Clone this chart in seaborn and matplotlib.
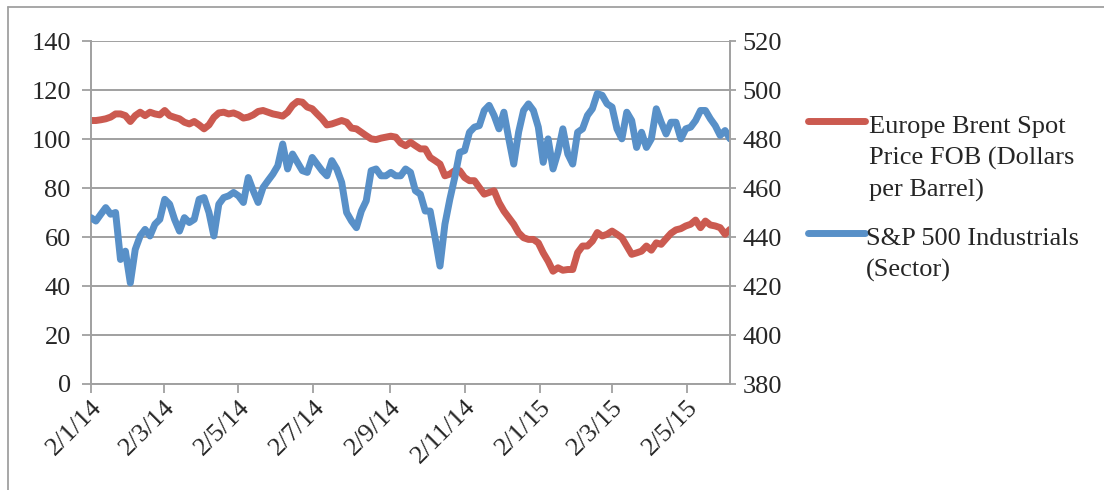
import pandas as pd
import matplotlib.pyplot as plt
import matplotlib.dates as mdates
from matplotlib.lines import Line2D
from matplotlib.ticker import FuncFormatter
import seaborn as sns

# values, one point every 4 days
dates = pd.date_range("2014-01-02", "2015-06-06", freq="4D")

brent = [
    107.7, 107.7, 108.0, 108.4, 109.1, 110.4, 110.4, 109.7, 107.3, 109.7,
    111.1, 109.7, 111.1, 110.4, 110.0, 111.8, 109.7, 109.0, 108.4, 107.0,
    106.3, 107.3, 105.9, 104.3, 105.9, 109.0, 110.8, 111.1, 110.4, 110.8,
    110.0, 108.7, 109.1, 110.0, 111.4, 111.8, 111.1, 110.4, 110.0, 109.5,
    111.1, 113.9, 115.5, 115.2, 113.2, 112.5, 110.4, 108.4, 105.9, 106.3,
    107.0, 107.7, 107.0, 104.6, 104.3, 102.9, 101.5, 100.2, 99.9, 100.5,
    100.9, 101.3, 100.9, 98.5, 97.4, 98.8, 97.4, 96.1, 96.1, 92.6,
    91.3, 89.9, 85.1, 85.8, 87.2, 87.2, 84.4, 83.1, 83.1, 80.3,
    77.6, 78.3, 79.0, 74.2, 70.7, 68.0, 65.3, 61.8, 59.8, 59.1,
    59.1, 57.7, 53.6, 50.2, 46.1, 47.5, 46.5, 46.8, 46.8, 53.7,
    56.4, 56.4, 58.4, 61.9, 60.5, 61.2, 62.5, 61.2, 59.8, 56.4,
    53.0, 53.6, 54.3, 56.4, 54.7, 57.7, 57.1, 59.4, 61.6, 63.0,
    63.5, 64.6, 65.3, 67.0, 63.9, 66.6, 65.0, 64.6, 63.9, 61.2,
    63.2,
]

industrials = [
    448.0, 446.6, 449.4, 452.1, 449.4, 450.1, 430.9, 434.3, 421.3, 435.0,
    440.5, 443.2, 440.5, 445.3, 447.3, 455.5, 453.5, 447.3, 442.5, 448.0,
    446.0, 447.3, 455.5, 456.2, 450.1, 440.5, 453.5, 456.2, 456.9, 458.3,
    456.9, 454.2, 464.4, 459.0, 454.2, 460.3, 463.1, 465.8, 469.2, 478.1,
    467.9, 474.0, 470.6, 467.2, 466.5, 472.6, 469.9, 467.2, 465.1, 471.3,
    467.9, 462.4, 450.1, 446.6, 443.9, 450.7, 454.9, 467.2, 467.9, 465.1,
    465.1, 466.5, 465.1, 465.1, 467.9, 466.5, 459.0, 457.6, 450.7, 450.7,
    439.8, 428.2, 445.3, 455.5, 464.4, 474.7, 475.4, 482.9, 485.0, 485.6,
    491.8, 493.9, 489.8, 484.3, 491.1, 480.2, 469.9, 483.0, 491.8, 494.5,
    491.8, 485.0, 470.6, 480.2, 467.9, 474.7, 484.3, 474.0, 469.9, 482.9,
    484.3, 489.8, 492.5, 498.7, 498.0, 494.5, 493.2, 484.3, 480.2, 491.1,
    487.7, 476.7, 482.9, 476.7, 480.2, 492.5, 487.0, 482.2, 487.0, 487.0,
    480.2, 484.3, 485.0, 487.7, 491.8, 491.8, 488.4, 485.6, 481.6, 483.6,
    480.2,
]

left_ticks = [0, 20, 40, 60, 80, 100, 120, 140]
right_ticks = [380, 400, 420, 440, 460, 480, 500, 520]
brent_label = ["Europe Brent Spot", "Price FOB (Dollars", "per Barrel)"]
ind_label = ["S&P 500 Industrials", "(Sector)"]

red = "#CB5A50"
blue = "#5890C8"
grey = "#A0A0A0"

sns.set_style("white")
plt.rcParams["font.family"] = ["Liberation Serif", "DejaVu Serif"]
plt.rcParams["font.size"] = 19

df = pd.DataFrame({"date": dates, "brent": brent, "industrials": industrials})

W, H = 1104, 490
fig = plt.figure(figsize=(W / 100, H / 100), dpi=100)
ax = fig.add_axes([91 / W, 1 - 384 / H, (730 - 91) / W, (384 - 41.5) / H])
ax2 = ax.twinx()

sns.lineplot(data=df, x="date", y="brent", ax=ax, color=red, linewidth=5,
             solid_capstyle="round", solid_joinstyle="round")
sns.lineplot(data=df, x="date", y="industrials", ax=ax2, color=blue, linewidth=5,
             solid_capstyle="round", solid_joinstyle="round")

ax.set_ylim(0, 140)
ax.set_yticks(left_ticks)
ax2.set_ylim(380, 520)
ax2.set_yticks(right_ticks)
ax.set_xlim(dates[0], dates[-1])
ax.set_xlabel("")
ax.set_ylabel("")
ax2.set_ylabel("")

ax.xaxis.set_major_locator(mdates.MonthLocator(bymonth=[1, 3, 5, 7, 9, 11], bymonthday=2))
ax.xaxis.set_major_formatter(FuncFormatter(
    lambda v, p: "{}/{}/{}".format(mdates.num2date(v).day, mdates.num2date(v).month,
                                   mdates.num2date(v).year % 100)))
for lab in ax.get_xticklabels():
    lab.set_rotation(45)
    lab.set_ha("right")
    lab.set_rotation_mode("anchor")

ax.grid(axis="y", color=grey, linewidth=1.4)
ax.set_axisbelow(True)
for a in (ax, ax2):
    for s in a.spines.values():
        s.set_visible(False)
ax.spines["left"].set_visible(True)
ax.spines["bottom"].set_visible(True)
ax2.spines["right"].set_visible(True)
for s in (ax.spines["left"], ax.spines["bottom"], ax2.spines["right"]):
    s.set_color(grey)
    s.set_linewidth(1.4)

ax.tick_params(axis="y", left=True, length=6.5, width=1.3, color=grey, pad=8)
ax.tick_params(axis="x", bottom=True, length=6.5, width=1.3, color=grey, pad=2)
ax2.tick_params(axis="y", right=True, length=4, width=1.3, color=grey, pad=5)

# legend drawn by hand so the key sits on the first line of each label
fig.add_artist(Line2D([808 / W, 865 / W], [1 - 121 / H] * 2, color=red, linewidth=5,
                      solid_capstyle="round"))
fig.add_artist(Line2D([808 / W, 865 / W], [1 - 233 / H] * 2, color=blue, linewidth=5,
                      solid_capstyle="round"))
for i, t in enumerate(brent_label):
    fig.text(869 / W, 1 - (133 + 32 * i) / H, t, va="baseline", ha="left")
for i, t in enumerate(ind_label):
    fig.text(866 / W, 1 - (245 + 32 * i) / H, t, va="baseline", ha="left")

# chart frame (only top and left edges show)
fig.add_artist(Line2D([8 / W, 8 / W], [0, 1 - 7 / H], color=grey, linewidth=1.3))
fig.add_artist(Line2D([8 / W, 1], [1 - 7 / H] * 2, color=grey, linewidth=1.3))

fig.savefig("out.png", dpi=100)
